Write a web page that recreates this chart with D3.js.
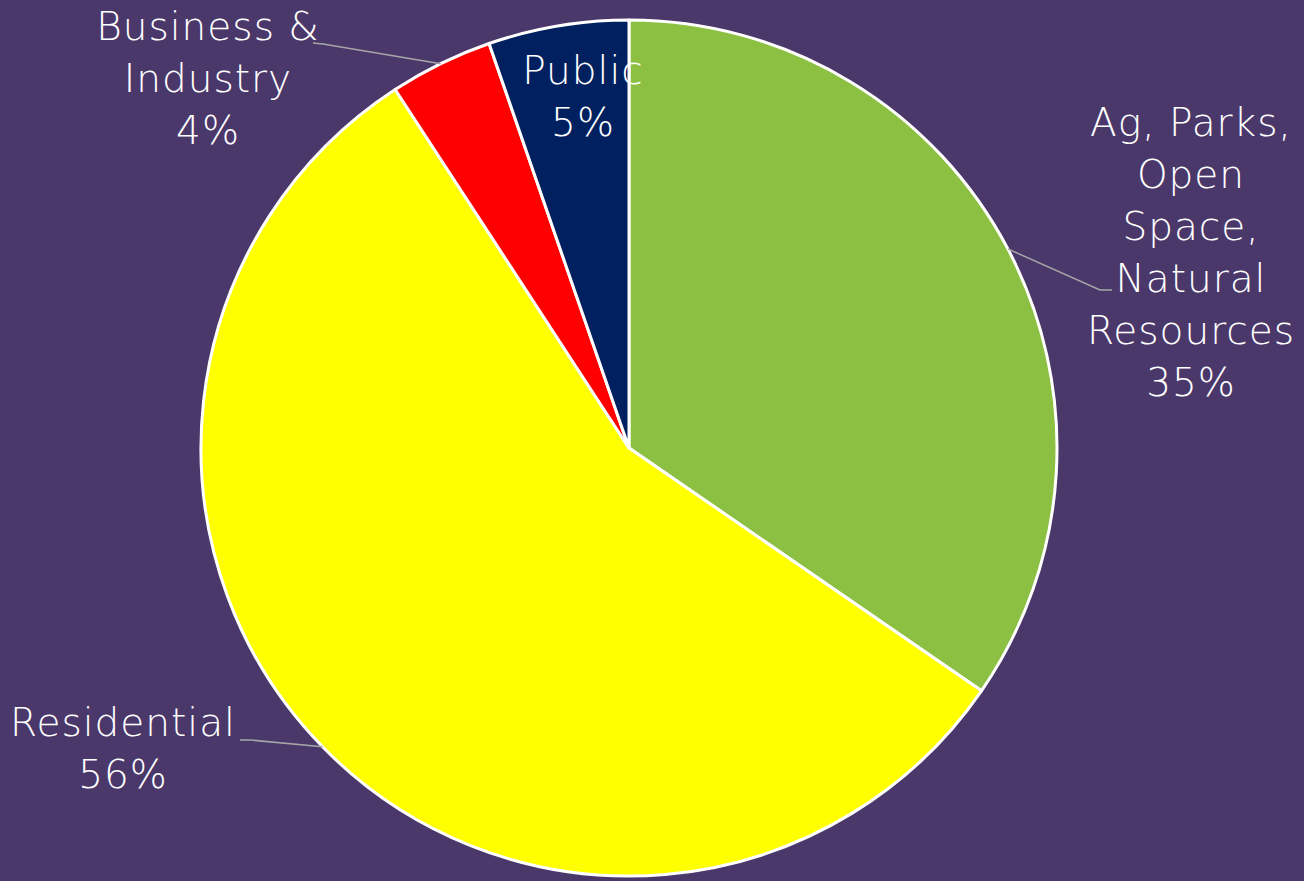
<!DOCTYPE html>
<html>
<head>
<meta charset="utf-8">
<script src="https://cdn.jsdelivr.net/npm/d3@7"></script>
<style>
  html, body { margin: 0; padding: 0; background: #4b386b; }
  svg { display: block; }
</style>
</head>
<body>
<svg id="chart"></svg>
<script>
// data
let categories = ['Ag, Parks, Open Space, Natural Resources', 'Residential', 'Business & Industry', 'Public'];
let shares = [34.6, 56.2, 3.9, 5.3];
let labelLines = [
    ['Ag, Parks,', 'Open', 'Space,', 'Natural', 'Resources'],
    ['Residential'],
    ['Business &', 'Industry'],
    ['Public']
];
let dataColor = ['#8cc042', '#ffff00', '#ff0000', '#002060'];

// layout for the labels (text box centre x, first line y, leader elbow)
let labelPlace = [
    {x: 1191, y: 136, elbow: [1100, 290], end: [1112, 290]},
    {x: 123, y: 736, elbow: [250, 740], end: [240, 740]},
    {x: 208, y: 40, elbow: [323, 44], end: [313, 43]},
    {x: 583, y: 84, elbow: null, end: null}
];

var W = 1304, H = 881, cx = 629, cy = 448, R = 428, lineH = 52;

var svg = d3.select('#chart').attr('width', W).attr('height', H);
svg.append('rect').attr('width', W).attr('height', H).attr('fill', '#4b386b');

var pie = d3.pie().value(function(d){ return d; }).sort(null);
var arc = d3.arc().innerRadius(0).outerRadius(R);
var arcs = pie(shares);

var g = svg.append('g').attr('transform', 'translate(' + cx + ',' + cy + ')');

g.selectAll('path.slice')
    .data(arcs)
    .enter()
    .append('path')
    .attr('class', 'slice')
    .attr('d', arc)
    .attr('fill', function(d, i) { return dataColor[i]; })
    .attr('stroke', '#ffffff')
    .attr('stroke-width', 3)
    .attr('stroke-linejoin', 'round');

// leader lines from the rim at the slice middle
arcs.forEach(function(d, i) {
    var p = labelPlace[i];
    if (!p.elbow) return;
    var a = (d.startAngle + d.endAngle) / 2;
    var rim = [cx + R * Math.sin(a), cy - R * Math.cos(a)];
    svg.append('polyline')
        .attr('points', [rim, p.elbow, p.end].map(function(q) { return q.join(','); }).join(' '))
        .attr('fill', 'none')
        .attr('stroke', '#a6a6a6')
        .attr('stroke-width', 1.5);
});

// labels
arcs.forEach(function(d, i) {
    var p = labelPlace[i];
    var lines = labelLines[i].concat([d3.format('.0f')(shares[i]) + '%']);
    var t = svg.append('text')
        .attr('text-anchor', 'middle')
        .attr('fill', '#ffffff')
        .attr('font-family', '"DejaVu Sans", sans-serif')
        .attr('font-size', '39px')
        .attr('letter-spacing', '1px')
        .attr('font-weight', 200);
    lines.forEach(function(s, k) {
        t.append('tspan').attr('x', p.x).attr('y', p.y + k * lineH).text(s);
    });
});
</script>
</body>
</html>
